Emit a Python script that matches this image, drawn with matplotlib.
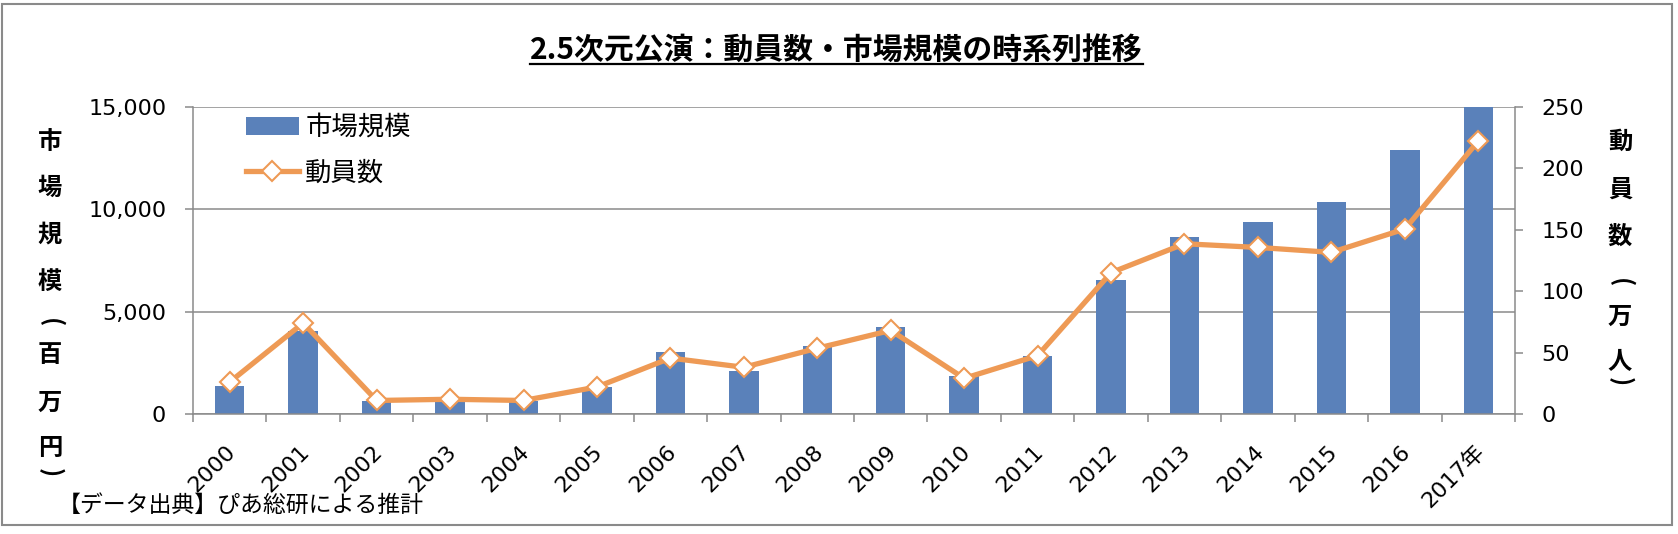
import matplotlib
matplotlib.use('Agg')
import matplotlib.pyplot as plt
import matplotlib.transforms as mtransforms
from matplotlib.lines import Line2D
from matplotlib.patches import Rectangle
import numpy as np

# ---------------- data ----------------
years = ['2000', '2001', '2002', '2003', '2004', '2005', '2006', '2007', '2008',
         '2009', '2010', '2011', '2012', '2013', '2014', '2015', '2016', '2017年']
market_size = [1380, 4030, 650, 660, 620, 1320, 3050, 2110, 3300,
               4230, 1840, 2810, 6530, 8650, 9380, 10350, 12870, 15000]
attendance = [26, 74, 11, 12, 11, 22, 45.5, 38, 53.5,
              68, 29, 47.5, 115, 138.5, 135.5, 131.5, 150.5, 222]
left_ticks = [0, 5000, 10000, 15000]
right_ticks = [0, 50, 100, 150, 200, 250]
title_text = '2.5次元公演：動員数・市場規模の時系列推移'
left_label = ['市', '場', '規', '模', '(', '百', '万', '円', ')']
right_label = ['動', '員', '数', '(', '万', '人', ')']
source_text = '【データ出典】ぴあ総研による推計'
bar_name = '市場規模'
line_name = '動員数'

# ---------------- style ----------------
BLUE = '#5A81BA'
ORANGE = '#EE9A55'
GRAY = '#8A8A8A'
JP = 'Noto Sans CJK JP'
plt.rcParams['font.family'] = ['DejaVu Sans', JP]

W, H = 1678, 534
fig = plt.figure(figsize=(W / 100, H / 100), dpi=100)


def fx(x):
    return x / W


def fy(y):
    return 1 - y / H


ax = fig.add_axes([fx(193), fy(414), (1515 - 193) / W, (414 - 106.7) / H])
x = np.arange(len(years))
bars = ax.bar(x, market_size, width=0.4, color=BLUE, zorder=2, label=bar_name)
ax.set_xlim(-0.5, len(years) - 0.5)
ax.set_ylim(0, 15000)
ax.set_yticks(left_ticks)
ax.set_yticklabels([f'{v:,}' for v in left_ticks])
ax.grid(axis='y', color=GRAY, lw=1.1, zorder=0)
ax.set_axisbelow(True)

for side in ['top', 'right']:
    ax.spines[side].set_visible(False)
for side in ['left', 'bottom']:
    ax.spines[side].set_color(GRAY)
    ax.spines[side].set_linewidth(1.1)

ax.tick_params(axis='y', direction='out', length=5.8, width=1.1, color=GRAY,
               pad=13.5, labelsize=16)
ax.set_xticks(x)
ax.set_xticklabels(years)
ax.set_xticks(np.arange(-0.5, len(years), 1), minor=True)
ax.tick_params(axis='x', which='major', length=0, pad=28, labelsize=16)
ax.tick_params(axis='x', which='minor', direction='out', length=5.8, width=1.1, color=GRAY)
offset = mtransforms.ScaledTranslation(0.07, 0, fig.dpi_scale_trans)
for lab in ax.get_xticklabels():
    lab.set_rotation(45)
    lab.set_ha('right')
    lab.set_va('baseline')
    lab.set_rotation_mode('anchor')
    lab.set_transform(lab.get_transform() + offset)

ax2 = ax.twinx()
line, = ax2.plot(x, attendance, color=ORANGE, lw=3.8, marker='D', ms=10,
                 mfc='white', mec=ORANGE, mew=1.5, zorder=3, label=line_name)
ax2.set_ylim(0, 250)
ax2.set_yticks(right_ticks)
for side in ['top', 'left', 'bottom']:
    ax2.spines[side].set_visible(False)
ax2.spines['right'].set_color(GRAY)
ax2.spines['right'].set_linewidth(1.1)
ax2.tick_params(axis='y', direction='out', length=5.8, width=1.1, color=GRAY,
                pad=13.5, labelsize=16)

leg = ax2.legend(handles=[bars, line], labels=[bar_name, line_name],
                 loc='upper left', bbox_to_anchor=(fx(246), fy(114)),
                 bbox_transform=fig.transFigure, frameon=False,
                 prop={'family': JP, 'size': 19}, handlelength=2.0,
                 handleheight=0.7, handletextpad=0.25, labelspacing=0.7,
                 borderpad=0, borderaxespad=0)

# axis titles (vertical, char by char)
left_y = [141.7, 188.3, 235, 281.7, 323, 355, 403, 448, 473]
for ch, yy in zip(left_label, left_y):
    rot = -90 if ch in '()' else 0
    fig.text(fx(50), fy(yy), ch, ha='center', va='center', rotation=rot,
             rotation_mode='anchor', family=JP, weight='bold', fontsize=17.5)
right_y = [141.7, 190, 236.7, 283, 316.7, 361.7, 381.7]
for ch, yy in zip(right_label, right_y):
    rot = -90 if ch in '()' else 0
    fig.text(fx(1620), fy(yy), ch, ha='center', va='center', rotation=rot,
             rotation_mode='anchor', family=JP, weight='bold', fontsize=17.5)

# title with underline
t = fig.text(fx(836.7), fy(50), title_text, ha='center', va='center',
             family=JP, weight='bold', fontsize=21.5)
fig.canvas.draw()
bb = t.get_window_extent()
fig.add_artist(Line2D([bb.x0 / W, bb.x1 / W], [fy(64), fy(64)],
                      transform=fig.transFigure, color='black', lw=1.6))

# source
fig.text(fx(58), fy(505), source_text, ha='left', va='center', family=JP,
         fontsize=16.5)

# outer border
fig.add_artist(Rectangle((fx(1.5), fy(525)), (1672 - 1.5) / W, (525 - 4) / H,
                         transform=fig.transFigure, fill=False, ec=GRAY, lw=1.5))

fig.savefig('out.png', dpi=100)
